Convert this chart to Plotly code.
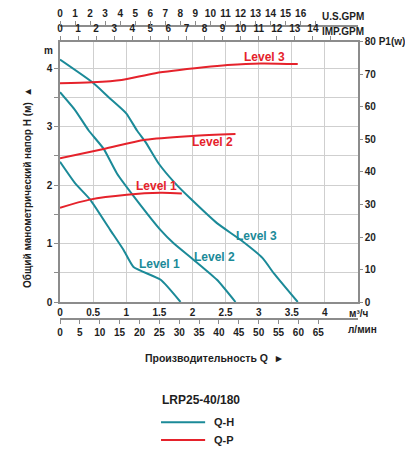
import plotly.graph_objects as go

# Q-H curves (flow m3/h, head m)
q_h1 = [0, 0.23, 0.45, 0.76, 0.96, 1.11, 1.52, 1.82]
h_h1 = [2.40, 2.03, 1.76, 1.23, 0.89, 0.60, 0.38, 0]
q_h2 = [0, 0.23, 0.43, 0.66, 0.86, 1.14, 1.52, 1.72, 2.02, 2.37, 2.65]
h_h2 = [3.59, 3.28, 2.94, 2.62, 2.20, 1.77, 1.23, 1.00, 0.72, 0.38, 0]
q_h3 = [0, 0.49, 0.73, 1.0, 1.16, 1.29, 1.49, 1.74, 1.97, 2.37, 2.73, 3.06, 3.23, 3.59]
h_h3 = [4.15, 3.76, 3.51, 3.23, 2.94, 2.74, 2.37, 2.03, 1.77, 1.35, 1.06, 0.75, 0.49, 0]

# Q-P curves (flow m3/h, power W)
q_p1 = [0, 0.45, 1.01, 1.52, 1.84]
p_p1 = [29.0, 31.5, 33.0, 33.6, 33.4]
q_p2 = [0, 0.66, 1.29, 2.0, 2.65]
p_p2 = [44.2, 47.1, 49.9, 51.1, 51.7]
q_p3 = [0, 0.49, 0.93, 1.44, 2.17, 2.53, 3.03, 3.59]
p_p3 = [67.3, 67.6, 68.3, 70.4, 72.2, 72.9, 73.4, 73.2]

q_ticks = [0, 0.5, 1, 1.5, 2, 2.5, 3, 3.5, 4, 4.5]
q_labels = ['0', '0.5', '1', '1.5', '2', '2.5', '3', '3.5', '4', '']
h_ticks = [0, 1, 2, 3, 4]
p_ticks = [0, 10, 20, 30, 40, 50, 60, 70, 80]
p_labels = ['0', '10', '20', '30', '40', '50', '60', '70', '80 P1(w)']
imp_ticks = list(range(16))
imp_labels = [str(i) for i in range(15)] + ['']
us_ticks = list(range(18))
us_labels = [str(i) for i in range(17)] + ['']
lmin_ticks = list(range(0, 70, 5))

Q_MAX = 4.5
TEAL = '#1b8a98'
RED = '#e5222b'
GRID = '#cfcfcf'
AXIS = '#8c8c8c'
TXT = '#1e1e1e'
FONT = 'Liberation Sans'

fig = go.Figure()
for q, h in [(q_h1, h_h1), (q_h2, h_h2), (q_h3, h_h3)]:
    fig.add_trace(go.Scatter(x=q, y=h, mode='lines', line=dict(color=TEAL, width=2, shape='spline', smoothing=0.5),
                             showlegend=False, hoverinfo='skip'))
for q, p in [(q_p1, p_p1), (q_p2, p_p2), (q_p3, p_p3)]:
    fig.add_trace(go.Scatter(x=q, y=p, yaxis='y2', mode='lines', line=dict(color=RED, width=2, shape='spline', smoothing=0.8),
                             showlegend=False, hoverinfo='skip'))
# empty traces so the extra flow scales get drawn
for ax in ['x2', 'x3', 'x4']:
    fig.add_trace(go.Scatter(x=[], y=[], xaxis=ax, showlegend=False, hoverinfo='skip'))

tick_font = dict(family=FONT, size=10, color=TXT, weight='bold')
common = dict(showline=True, linecolor=AXIS, linewidth=1.5, tickcolor=AXIS, tickfont=tick_font,
              zeroline=False, automargin=False)

# the page body adds 8px around the figure, so margins are shifted by that
fig.update_layout(
    width=413, height=450,
    margin=dict(l=52, r=63, t=18, b=139),
    plot_bgcolor='white', paper_bgcolor='white',
    showlegend=False,
    xaxis=dict(range=[0, Q_MAX], tickvals=q_ticks, ticktext=q_labels, showgrid=True, gridcolor=GRID,
               ticks='', **common),
    xaxis2=dict(overlaying='x', side='top', anchor='y', range=[0, Q_MAX * 3.666], tickvals=imp_ticks,
                ticktext=imp_labels, ticks='outside', ticklen=4, showgrid=False, **common),
    xaxis3=dict(overlaying='x', side='top', anchor='free', position=1, range=[0, Q_MAX * 4.403],
                tickvals=us_ticks, ticktext=us_labels, ticks='outside', ticklen=4, showgrid=False, **common),
    xaxis4=dict(overlaying='x', side='bottom', anchor='free', position=0, range=[0, Q_MAX * 16.667],
                tickvals=lmin_ticks, ticks='outside', ticklen=4, showgrid=False, **common),
    yaxis=dict(domain=[0.058, 0.9454], range=[0, 4.45], tickvals=h_ticks, showgrid=True, gridcolor=GRID,
               ticks='outside', ticklen=4,
               minor=dict(tickvals=[0.5, 1.5, 2.5, 3.5], showgrid=True, gridcolor=GRID, ticks='outside',
                          ticklen=4, tickcolor=AXIS),
               **common),
    yaxis2=dict(overlaying='y', side='right', range=[0, 80], tickvals=p_ticks, ticktext=p_labels,
                ticks='outside', ticklen=3, showgrid=False, **common),
)

def note(text, x, y, xref='paper', yref='paper', size=10, color=TXT, xanchor='center', **kw):
    fig.add_annotation(text=text, x=x, y=y, xref=xref, yref=yref, showarrow=False,
                       xanchor=xanchor, yanchor='middle',
                       font=dict(family=FONT, size=size, color=color, weight='bold'), **kw)

# curve labels
note('Level 1', 1.50, 0.65, 'x', 'y', 12, TEAL)
note('Level 2', 2.33, 0.77, 'x', 'y', 12, TEAL)
note('Level 3', 2.97, 1.13, 'x', 'y', 12, TEAL)
note('Level 1', 1.45, 35.7, 'x', 'y2', 12, RED)
note('Level 2', 2.30, 49.3, 'x', 'y2', 12, RED)
note('Level 3', 3.09, 75.5, 'x', 'y2', 12, RED)

# axis names
note('U.S.GPM', 0.949, 1.034)
note('IMP.GPM', 0.949, 0.98)
note('m', -0.04, 0.918)
note('м³/ч', 1.004, 0.02)
note('л/мин', 1.015, -0.037)
note('Общий манометрический напор H (м)  ▲', -0.111, 0.45, size=10, textangle=-90)
note('Производительность Q  ►', 0.52, -0.133, size=10.5)

# legend
note('LRP25-40/180', 0.336, -0.276, size=12, xanchor='left')
note('Q-H', 0.51, -0.352, size=11, xanchor='left')
note('Q-P', 0.51, -0.413, size=11, xanchor='left')
fig.add_shape(type='line', xref='paper', yref='paper', x0=0.339, x1=0.487, y0=-0.352, y1=-0.352,
              line=dict(color=TEAL, width=2))
fig.add_shape(type='line', xref='paper', yref='paper', x0=0.339, x1=0.487, y0=-0.413, y1=-0.413,
              line=dict(color=RED, width=2))

fig.write_html("out.html")
